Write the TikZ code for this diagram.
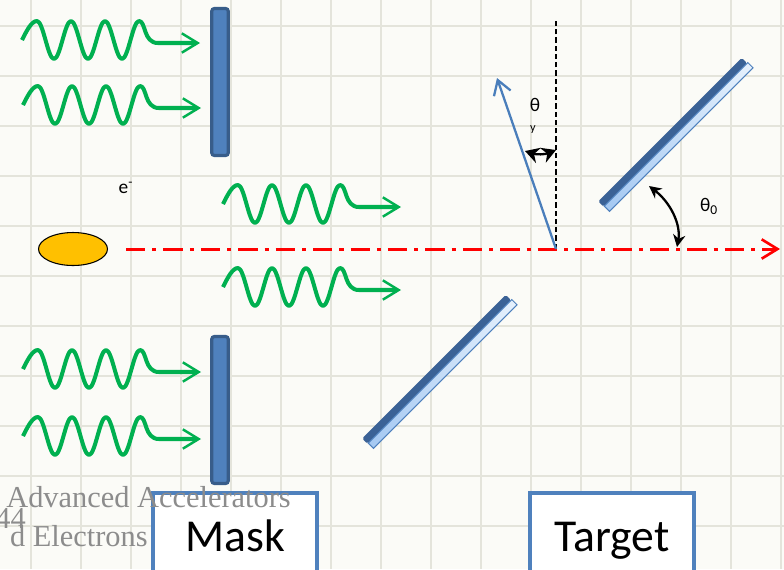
\documentclass[tikz,border=0pt]{standalone}
\usepackage{fontspec}
\setmainfont{Carlito}
\newfontfamily\slidefont{Liberation Serif}
\usetikzlibrary{arrows.meta,shapes.geometric}

\definecolor{paper}{HTML}{FBFBF7}
\definecolor{gridline}{HTML}{E4E4DB}
\definecolor{photongreen}{HTML}{00B050}
\definecolor{barfill}{HTML}{4F81BD}
\definecolor{bardark}{HTML}{385D8A}
\definecolor{platedark}{HTML}{3B6296}
\definecolor{platelight}{HTML}{A4C8F2}
\definecolor{platepale}{HTML}{E6F1FD}
\definecolor{rayblue}{HTML}{4A7EBB}
\definecolor{bunchorange}{HTML}{FFC000}
\definecolor{slidegray}{HTML}{8C8C8C}

\tikzset{
  photon/.pic={
    \draw[photon line] (0,0) sin (15,-19) cos (23.5,0) sin (32,19) cos (40.5,0)
      sin (49,-19) cos (57.5,0) sin (66,19) cos (74.5,0)
      sin (83,-19) cos (91.5,0) sin (100,19) cos (108.5,0)
      sin (117,-19) .. controls (124,-19) and (121,3) .. (136,3) -- (178,3);
  },
  plate/.pic={
    \fill[platedark,rounded corners=1pt] (-102,-8) rectangle (101,-0.5);
    \shade[left color=platelight,right color=platepale,draw=barfill,line width=.6pt]
      (-101,-0.5) rectangle (102,7);
  }
}

\begin{document}
\begin{tikzpicture}[x=0.02cm,y=-0.02cm,
    photon line/.style={photongreen,line width=2.3pt,line join=round,
      -{Straight Barb[length=9pt,width=11pt,line width=1.4pt]}},
    maskbar/.style={draw=bardark,fill=barfill,line width=1.8pt,rounded corners=1.5pt,
      minimum width=0.33cm,minimum height=2.94cm,inner sep=0pt},
    labelbox/.style={draw=barfill,fill=white,line width=2.3pt,
      minimum width=3.28cm,minimum height=1.72cm,
      font=\fontsize{26}{30}\selectfont,text height=18pt,text depth=0pt},
    bunch/.style={ellipse,draw=black,line width=.6pt,fill=bunchorange,
      minimum width=1.38cm,minimum height=0.66cm},
    axis/.style={red,line width=1.7pt,dash pattern=on 11pt off 4pt on 2.3pt off 4pt,
      -{Straight Barb[length=9pt,width=11pt,line width=1.5pt]}},
    normal/.style={black,line width=1.1pt,dash pattern=on 3pt off 1.7pt},
    ray/.style={rayblue,line width=1.3pt,-{Straight Barb[length=8pt,width=10pt]}},
    angarrow/.style={black,line width=1.3pt,{Stealth[length=7pt,width=7pt]}-{Stealth[length=7pt,width=7pt]}},
    anglabel/.style={font=\fontsize{11}{13}\selectfont,inner sep=1pt},
    slidetext/.style={font=\slidefont\fontsize{17.3}{19}\selectfont,text=slidegray,inner sep=0pt}]

  \useasboundingbox (0,0) rectangle (784,569);
  \clip (0,0) rectangle (784,569);
  \fill[paper] (0,0) rectangle (784,569);
  \foreach \gx in {31,81,...,781}
    \draw[gridline,line width=1.1pt] (\gx,0) -- (\gx,569);
  \foreach \gy in {26,76,...,576}
    \draw[gridline,line width=1.1pt] (0,\gy) -- (784,\gy);

  % photons
  \pic at (22,40) {photon};
  \pic at (23,105) {photon};
  \pic at (23,369) {photon};
  \pic at (23,436) {photon};
  \pic at (223,204) {photon};
  \pic at (223,287) {photon};

  % mask
  \node[maskbar] (maskup) at (220,82) {};
  \node[maskbar] (masklow) at (220,410) {};

  % beam
  \node[bunch] (bunch) at (73,249) {};
  \node[anglabel] (elabel) at (126,188) {e\textsuperscript{-}};
  \coordinate (axstart) at (126,249);
  \coordinate (axend) at (780,249);
  \draw[axis] (axstart) -- (axend);

  % target
  \coordinate (hit) at (556,249);
  \coordinate (normtop) at (556,20);
  \coordinate (raytip) at (497,78);
  \draw[normal] (hit) -- (normtop);
  \draw[ray] (hit) -- (raytip);
  \pic[rotate=45] at (676,135) {plate};
  \pic[rotate=45] at (440,372) {plate};

  \node[anglabel] (theta) at (535,105) {θ};
  \node[anglabel,font=\fontsize{7}{8}\selectfont] (thetasub) at (533,130) {y};
  \coordinate (arcl) at (525,151);
  \coordinate (arcr) at (556,150);
  \draw[angarrow,{Stealth[length=8pt,width=9pt]}-{Stealth[length=8pt,width=9pt]}]
    (arcl) to[bend right=20] (arcr);

  \node[anglabel] (thetazero) at (709,206) {θ\textsubscript{0}};
  \coordinate (platefoot) at (649,186);
  \coordinate (axfoot) at (677,247);
  \draw[angarrow] (platefoot) .. controls (671,203) and (681,225) .. (axfoot);

  % captions
  \node[labelbox] (mask) at (235,536) {Mask};
  \node[labelbox] (target) at (612,536) {Target};

  \node[slidetext,anchor=base west] (course) at (6,507) {Advanced Accelerators};
  \node[slidetext,anchor=base west] (page) at (-5,528) {44};
  \node[slidetext,anchor=base east] (topic) at (148,546) {d Electrons};
\end{tikzpicture}
\end{document}
